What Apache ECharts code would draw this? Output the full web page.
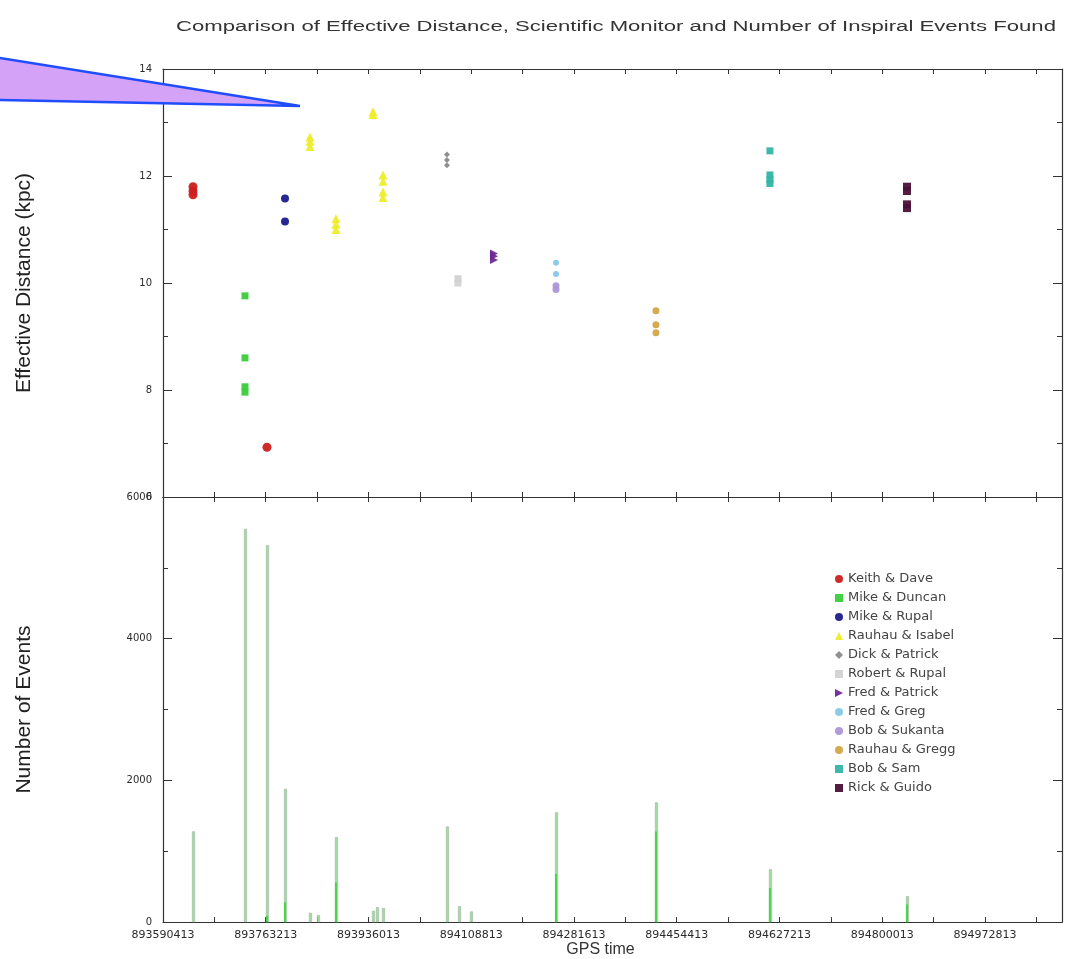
<!DOCTYPE html>
<html>
<head>
<meta charset="utf-8">
<title>Effective Distance and Inspiral Events</title>
<script src="https://cdn.jsdelivr.net/npm/echarts@6/dist/echarts.min.js"></script>
<style>
  html, body { margin: 0; padding: 0; background: #ffffff; }
  #chart { width: 1075px; height: 959px; }
</style>
</head>
<body>
<div id="chart"></div>
<script>
// GPS time of the first x tick and the spacing of the axis ticks (seconds)
const GPS_START = 893590413;
const DAY = 86400;
const GPS_END = GPS_START + 17.5 * DAY;

// Effective distance (kpc) per shift team: [GPS time, distance]
const keithDave     = [[893640900, 11.65], [893640900, 11.72], [893640900, 11.80], [893765300, 6.93]];
const mikeDuncan    = [[893728300, 9.76], [893728300, 8.60], [893728300, 8.06], [893728300, 7.96]];
const mikeRupal     = [[893795600, 11.58], [893795600, 11.15]];
const rauhauIsabel  = [[893837600, 12.55], [893837600, 12.65], [893837600, 12.73],
                       [893881300, 11.00], [893881300, 11.10], [893881300, 11.20],
                       [893943600, 13.15], [893943600, 13.20],
                       [893960400, 11.60], [893960400, 11.70], [893960400, 11.90], [893960400, 12.02]];
const dickPatrick   = [[894068000, 12.20], [894068000, 12.30], [894068000, 12.40]];
const robertRupal   = [[894086500, 10.00], [894086500, 10.08]];
const fredPatrick   = [[894147100, 10.43], [894147100, 10.50], [894147100, 10.55]];
const fredGreg      = [[894251400, 10.38], [894251400, 10.17]];
const bobSukanta    = [[894251400, 9.88], [894251400, 9.95]];
const rauhauGregg   = [[894419500, 9.48], [894419500, 9.22], [894419500, 9.07]];
const bobSam        = [[894611200, 12.47], [894611200, 12.02], [894611200, 11.93], [894611200, 11.86]];
const rickGuido     = [[894841700, 11.80], [894841700, 11.72], [894841700, 11.47], [894841700, 11.40]];

// Number of inspiral events found: [GPS time, events]
const eventsTotal = [
  [893640900, 1280], [893728300, 5550], [893765300, 5320], [893795600, 1880],
  [893837600, 130], [893851100, 100], [893881300, 1200], [893943600, 160],
  [893950300, 210], [893960400, 200], [894068000, 1350], [894088200, 225],
  [894108400, 150], [894251400, 1550], [894419500, 1690], [894611200, 746],
  [894841700, 366]
];
const eventsLower = [
  [893765300, 90], [893795600, 280], [893881300, 560], [894251400, 680],
  [894419500, 1280], [894611200, 480], [894841700, 250]
];

// Team names, colours and marker shapes
const RIGHT_TRIANGLE = 'path://M0,0 L10,5 L0,10 Z';
const teams = [
  { name: 'Keith & Dave',    data: keithDave,    color: '#cc1f1f', symbol: 'circle',   size: 9 },
  { name: 'Mike & Duncan',   data: mikeDuncan,   color: '#3ccc3c', symbol: 'rect',     size: 7 },
  { name: 'Mike & Rupal',    data: mikeRupal,    color: '#1c1c8c', symbol: 'circle',   size: 8 },
  { name: 'Rauhau & Isabel', data: rauhauIsabel, color: '#eded2a', symbol: 'triangle', size: 9 },
  { name: 'Dick & Patrick',  data: dickPatrick,  color: '#8a8a8a', symbol: 'diamond',  size: 6 },
  { name: 'Robert & Rupal',  data: robertRupal,  color: '#d2d2d2', symbol: 'rect',     size: 7 },
  { name: 'Fred & Patrick',  data: fredPatrick,  color: '#6e2896', symbol: RIGHT_TRIANGLE, size: 8 },
  { name: 'Fred & Greg',     data: fredGreg,     color: '#86c8ea', symbol: 'circle',   size: 6 },
  { name: 'Bob & Sukanta',   data: bobSukanta,   color: '#ad96d8', symbol: 'circle',   size: 7 },
  { name: 'Rauhau & Gregg',  data: rauhauGregg,  color: '#d3a646', symbol: 'circle',   size: 7 },
  { name: 'Bob & Sam',       data: bobSam,       color: '#35b4a8', symbol: 'rect',     size: 7 },
  { name: 'Rick & Guido',    data: rickGuido,    color: '#4a1238', symbol: 'rect',     size: 8 }
];

const TICK_FONT = 'DejaVu Sans';
const AXIS_COLOR = '#333333';

// x values are plotted as seconds after GPS_START so that day ticks line up
const shift = pts => pts.map(p => [p[0] - GPS_START, p[1]]);

function xAxisBase(gridIndex, position, showLabels) {
  return {
    type: 'value', gridIndex: gridIndex, position: position,
    min: 0, max: GPS_END - GPS_START, interval: DAY,
    axisLine: { show: true, onZero: false, lineStyle: { color: AXIS_COLOR, width: 1.2 } },
    axisTick: { show: true, inside: true, length: 5, lineStyle: { color: AXIS_COLOR } },
    splitLine: { show: false },
    axisLabel: {
      show: showLabels, margin: 8, color: '#2a2a2a', fontFamily: TICK_FONT, fontSize: 11,
      formatter: function (v) {
        const d = v / DAY;
        if (Math.abs(d - Math.round(d)) > 1e-6 || Math.round(d) % 2 !== 0) return '';
        return String(GPS_START + v);
      }
    }
  };
}

function yAxisBase(gridIndex, position, min, max, step, showLabels) {
  return {
    type: 'value', gridIndex: gridIndex, position: position,
    min: min, max: max, interval: step,
    axisLine: { show: true, onZero: false, lineStyle: { color: AXIS_COLOR, width: 1.2 } },
    axisTick: { show: true, inside: true, length: 9, lineStyle: { color: AXIS_COLOR } },
    minorTick: { show: true, splitNumber: 2, length: 5, lineStyle: { color: AXIS_COLOR } },
    splitLine: { show: false },
    axisLabel: {
      show: showLabels, margin: 11, color: '#2a2a2a', fontFamily: TICK_FONT, fontSize: 10,
      formatter: v => String(v)
    }
  };
}

const NAME_STYLE = { fontFamily: 'Liberation Sans', fontSize: 21, color: '#222' };

const xAxes = [
  xAxisBase(0, 'bottom', false),
  xAxisBase(0, 'top', false),
  xAxisBase(1, 'top', false),
  Object.assign(xAxisBase(1, 'bottom', true), {
    name: 'GPS time', nameLocation: 'middle', nameGap: 19,
    nameTextStyle: { fontFamily: 'Liberation Sans', fontSize: 16, color: '#333', padding: [0, 24, 0, 0] }
  })
];

const yAxes = [
  Object.assign(yAxisBase(0, 'left', 6, 14, 2, true), {
    name: 'Effective Distance (kpc)', nameLocation: 'middle', nameGap: 128, nameTextStyle: NAME_STYLE
  }),
  yAxisBase(0, 'right', 6, 14, 2, false),
  Object.assign(yAxisBase(1, 'left', 0, 6000, 2000, true), {
    name: 'Number of Events', nameLocation: 'middle', nameGap: 128, nameTextStyle: NAME_STYLE
  }),
  yAxisBase(1, 'right', 0, 6000, 2000, false)
];

const scatterSeries = teams.map(t => ({
  name: t.name, type: 'scatter', xAxisIndex: 0, yAxisIndex: 0,
  symbol: t.symbol, symbolSize: t.size,
  itemStyle: { color: t.color, opacity: 0.95 },
  data: shift(t.data)
}));

const barSeries = [
  {
    name: 'Events', type: 'bar', xAxisIndex: 3, yAxisIndex: 2,
    barWidth: 3, barGap: '-100%',
    itemStyle: { color: '#9fdc9f', borderColor: '#a3b6a3', borderWidth: 0.6 },
    data: shift(eventsTotal)
  },
  {
    name: 'Events (lower)', type: 'bar', xAxisIndex: 3, yAxisIndex: 2,
    barWidth: 2, barGap: '-100%',
    itemStyle: { color: '#46d846' },
    data: shift(eventsLower)
  }
];

const chart = echarts.init(document.getElementById('chart'), null, { renderer: 'canvas' });
chart.setOption({
  backgroundColor: '#ffffff',
  animation: false,
  grid: [
    { left: 163, right: 13, top: 69, height: 428 },
    { left: 163, right: 13, top: 497, height: 426 }
  ],
  xAxis: xAxes,
  yAxis: yAxes,
  legend: {
    data: teams.map(t => ({ name: t.name, icon: t.symbol })),
    orient: 'vertical', left: 830, top: 567,
    itemWidth: 8, itemHeight: 8, itemGap: 5,
    textStyle: { fontFamily: TICK_FONT, fontSize: 13, color: '#444', lineHeight: 14 }
  },
  graphic: [
    {
      type: 'text', x: 616, y: 27, scaleX: 1.58, z: 10,
      style: {
        text: 'Comparison of Effective Distance, Scientific Monitor and Number of Inspiral Events Found',
        font: '14px "Liberation Sans"', fill: '#333', align: 'center', verticalAlign: 'middle'
      }
    },
    {
      type: 'polygon', z: 20,
      shape: { points: [[-6, 57], [300, 106], [-6, 100]] },
      style: { fill: '#d4a3f8', stroke: '#1f4dff', lineWidth: 2.5, lineJoin: 'miter' }
    }
  ],
  series: scatterSeries.concat(barSeries)
});
</script>
</body>
</html>
